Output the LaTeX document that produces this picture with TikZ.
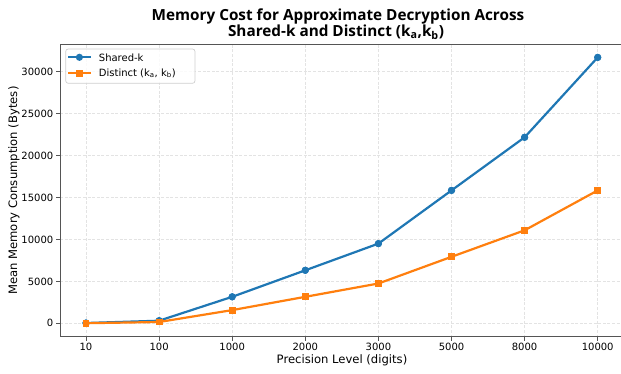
\documentclass[tikz,border=0pt]{standalone}
\usepackage{fontspec}
\setmainfont{DejaVu Sans}
\newfontfamily\titlefont{Open Sans}
\definecolor{mblue}{HTML}{1F77B4}
\definecolor{morange}{HTML}{FF7F0E}
\definecolor{spinec}{HTML}{555555}
\definecolor{gridc}{HTML}{E3E3E3}
\begin{document}
\begin{tikzpicture}[x=1pt,y=-1pt,
  spine/.style={draw=spinec,line width=0.9pt},
  gridl/.style={draw=gridc,line width=0.7pt,dash pattern=on 3pt off 1.6pt},
  tick/.style={draw=spinec,line width=0.8pt},
  ticklab/.style={font=\fontsize{10}{12}\selectfont,inner sep=0pt},
  axlab/.style={font=\fontsize{11.6}{14}\selectfont,inner sep=0pt},
  titlab/.style={font=\titlefont\bfseries\fontsize{15.3}{18}\selectfont,anchor=base,inner sep=0pt},
  bline/.style={draw=mblue,line width=2.2pt,line join=round},
  oline/.style={draw=morange,line width=2.2pt,line join=round},
  bdot/.style={circle,fill=mblue,inner sep=0pt,minimum size=7.2pt},
  osq/.style={rectangle,fill=morange,inner sep=0pt,minimum size=6.8pt},
]
\useasboundingbox (0,0) rectangle (621,373);
% grid
\foreach \xx in {86,159.1,232.2,305.3,378.4,451.5,524.6,597.7}
  \draw[gridl] (\xx,44.7) -- (\xx,336.5);
\foreach \yy in {323.3,281.4,239.4,197.5,155.6,113.6,71.7}
  \draw[gridl] (60,\yy) -- (623.7,\yy);
% frame
\draw[spine] (60,44.7) rectangle (623.7,336.5);
% x ticks
\foreach \xx/\lab in {86/10,159.1/100,232.2/1000,305.3/2000,378.4/3000,451.5/5000,524.6/8000,597.7/10000}{
  \draw[tick] (\xx,336.5) -- (\xx,340.5);
  \node[ticklab,anchor=base] (xt\lab) at (\xx,350) {\lab};
}
% y ticks
\foreach \yy/\lab in {323.3/0,281.4/5000,239.4/10000,197.5/15000,155.6/20000,113.6/25000,71.7/30000}{
  \draw[tick] (60,\yy) -- (56,\yy);
  \node[ticklab,anchor=east] (yt\lab) at (53.5,\yy) {\lab};
}
% axis labels
\node[axlab,anchor=base] (xlab) at (342,363) {Precision Level (digits)};
\node[axlab,rotate=90] (ylab) at (14,190.6) {Mean Memory Consumption (Bytes)};
% title
\node[titlab] (t1) at (338,20) {Memory Cost for Approximate Decryption Across};
\node[titlab] (t2) at (336,36) {Shared-k and Distinct (k\textsubscript{a},k\textsubscript{b})};
% blue series
\node[bdot] (b1) at (86,323.0) {};
\node[bdot] (b2) at (159.1,320.7) {};
\node[bdot] (b3) at (232.2,296.8) {};
\node[bdot] (b4) at (305.3,270.3) {};
\node[bdot] (b5) at (378.4,243.6) {};
\node[bdot] (b6) at (451.5,190.4) {};
\node[bdot] (b7) at (524.6,137.3) {};
\node[bdot] (b8) at (597.7,57.4) {};
\draw[bline] (b1.center) -- (b2.center) -- (b3.center) -- (b4.center) -- (b5.center) -- (b6.center) -- (b7.center) -- (b8.center);
\foreach \i in {1,...,8} \node[bdot] at (b\i) {};
% orange series
\node[osq] (o1) at (86,323.2) {};
\node[osq] (o2) at (159.1,322.0) {};
\node[osq] (o3) at (232.2,310.1) {};
\node[osq] (o4) at (305.3,296.8) {};
\node[osq] (o5) at (378.4,283.5) {};
\node[osq] (o6) at (451.5,256.8) {};
\node[osq] (o7) at (524.6,230.3) {};
\node[osq] (o8) at (597.7,190.4) {};
\draw[oline] (o1.center) -- (o2.center) -- (o3.center) -- (o4.center) -- (o5.center) -- (o6.center) -- (o7.center) -- (o8.center);
\foreach \i in {1,...,8} \node[osq] at (o\i) {};
% legend
\draw[draw=gridc!80!gray,fill=white,fill opacity=0.85,line width=0.7pt,rounded corners=2.5pt] (65.7,49) rectangle (195,83.3);
\coordinate (lb1) at (68,57.3); \coordinate (lb2) at (90.7,57.3);
\coordinate (lo1) at (68,73.3); \coordinate (lo2) at (90.7,73.3);
\draw[bline] (lb1) -- (lb2);
\node[bdot] (lbm) at (79.4,57.3) {};
\draw[oline] (lo1) -- (lo2);
\node[osq] (lom) at (79.4,73.3) {};
\node[ticklab,anchor=west] (lt1) at (98.7,57.3) {Shared-k};
\node[ticklab,anchor=west] (lt2) at (98.7,73.3) {Distinct (k\textsubscript{a}, k\textsubscript{b})};
\end{tikzpicture}
\end{document}
